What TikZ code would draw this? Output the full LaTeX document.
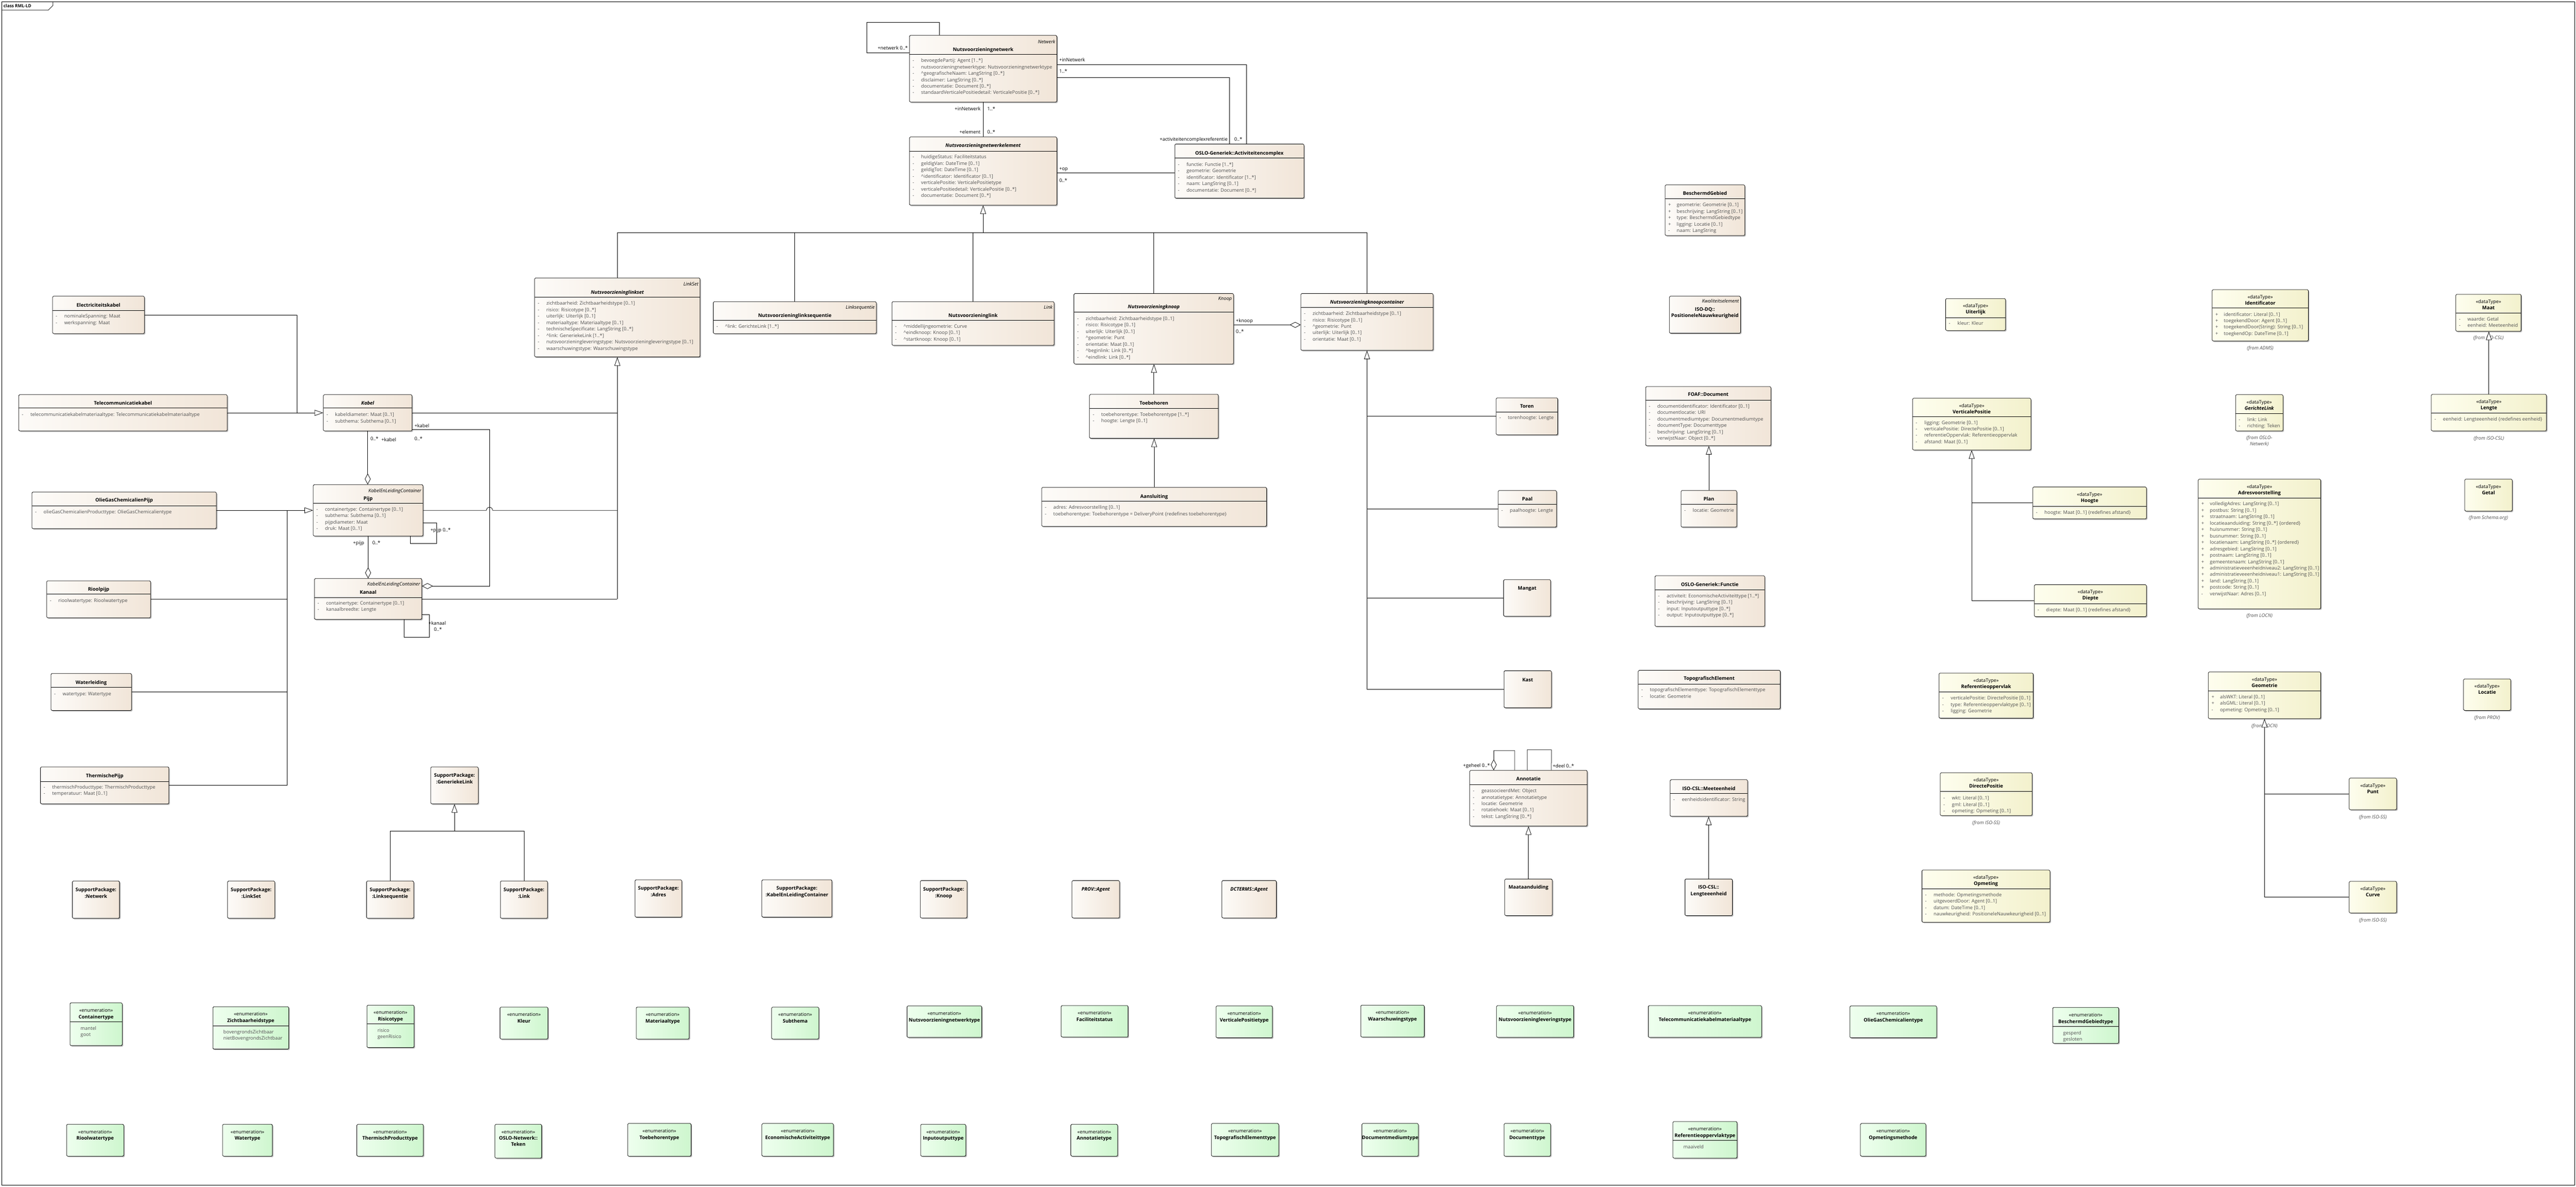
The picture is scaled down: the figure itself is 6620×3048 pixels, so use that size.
\documentclass[tikz,border=0pt]{standalone}
\usepackage{fontspec}
\setmainfont{Open Sans}
\usetikzlibrary{arrows.meta,fit,shadows}
\definecolor{clsL}{RGB}{253,251,248}
\definecolor{clsR}{RGB}{241,229,216}
\definecolor{dtL}{RGB}{254,254,238}
\definecolor{dtR}{RGB}{243,241,205}
\definecolor{enL}{RGB}{238,255,238}
\definecolor{enR}{RGB}{206,246,206}
\definecolor{attgray}{RGB}{80,80,80}
\newcommand\atfont{\fontsize{12.3}{16.5}\selectfont}
\newcommand\ttlfont{\fontsize{12.5}{16.5}\selectfont\bfseries}
\newcommand\vl[2]{\strut\makebox[22pt][l]{#1}#2}
\newcommand\vm[1]{\vl{-}{#1}}
\newcommand\vp[1]{\vl{+}{#1}}
\newcommand\vv[1]{\strut#1}
\newcommand\crt{\textasciicircum{}}
\newcommand\bx[6]{\node[#1,fit={(#3,#4)(#5,#6)}] (#2) {};}
\newcommand\dvd[3]{\draw[divl] (#1,#3) -- (#2,#3);}
\newcommand\ttlat[5]{\node[#2,anchor=base] (#1) at (#3,{#4+4.5}) {#5};}
\newcommand\stre[4]{\node[steri,anchor=base east] (#1) at (#2,{#3+4.5}) {#4};}
\newcommand\atat[4]{\node[att] (#1) at ({#2+8},{#3-7.05}) {#4};}
\newcommand\enval[4]{\node[att] (#1) at ({#2+27},{#3-7.05}) {#4};}
\newcommand\lab[5]{\node[lbl,anchor=base #2] (#1) at (#3,{#4+4.5}) {#5};}
\newcommand\frm[4]{\node[frmt,anchor=base] (#1) at (#2,{#3+4.5}) {#4};}
\newcommand\spk[7]{\bx{cls}{#1}{#2}{#3}{#4}{#5}%
 \node[ttl,anchor=base] (#1-a) at ({(#2+#4)/2},{#3+22+4.5}) {#6};%
 \node[ttl,anchor=base] (#1-b) at ({(#2+#4)/2},{#3+39+4.5}) {#7};}
\newcommand\dtb[7]{\bx{dtp}{#1}{#2}{#3}{#4}{#5}%
 \node[stt,anchor=base] (#1-s) at ({(#2+#4)/2},{#3+18.5+4.5}) {«dataType»};%
 \node[#6,anchor=base] (#1-t) at ({(#2+#4)/2},{#3+34.5+4.5}) {#7};}
\newcommand\enb[6]{\bx{enm}{#1}{#2}{#3}{#4}{#5}%
 \node[stt,anchor=base] (#1-s) at ({(#2+#4)/2},{#3+19+4.5}) {«enumeration»};%
 \node[ttl,anchor=base] (#1-t) at ({(#2+#4)/2},{#3+36+4.5}) {#6};}
\begin{document}
\begin{tikzpicture}[x=1pt,y=-1pt,
 cls/.style={draw,line width=1pt,rounded corners=2.5pt,left color=clsL,right color=clsR,inner sep=0pt,
   drop shadow={shadow xshift=2.5pt,shadow yshift=-2.5pt,opacity=.3,fill=black}},
 dtp/.style={cls,left color=dtL,right color=dtR},
 enm/.style={cls,left color=enL,right color=enR},
 ttl/.style={font=\ttlfont,inner sep=0pt},
 ttli/.style={font=\ttlfont\itshape,inner sep=0pt},
 stt/.style={font=\atfont,inner sep=0pt},
 steri/.style={font=\atfont\itshape,inner sep=0pt},
 att/.style={font=\atfont,text=attgray,align=left,inner sep=0pt,anchor=north west},
 lbl/.style={font=\atfont,inner sep=0pt},
 frmt/.style={font=\atfont\itshape,text=attgray,inner sep=0pt},
 divl/.style={line width=1pt},
 conn/.style={line width=1pt},
 gen/.style={conn,-{Triangle[length=22pt,width=15pt,fill=white]}},
 agg/.style={conn,-{Diamond[length=28pt,width=15pt,fill=white]}}]
\useasboundingbox (0,0) rectangle (6620,3048);
\fill[white] (0,0) rectangle (6620,3048);
\draw[line width=1pt] (4,4) rectangle (6616,3044);
\draw[line width=1pt] (4,26) -- (124,26) -- (136,14) -- (136,4);
\node[font=\fontsize{11}{13}\selectfont\bfseries,anchor=base west,inner sep=0pt] (frame-t) at (9,19.5) {class RML-LD};

% ---------- top
\bx{cls}{netw}{2337}{91}{2716}{262}
\dvd{2337}{2716}{139}
\stre{netw-s}{2712}{107}{Netwerk}
\ttlat{netw-t}{ttl}{2526.5}{127}{Nutsvoorzieningnetwerk}
\atat{netw-a}{2337}{155}{\vm{bevoegdePartij: Agent [1..*]}\\\vm{nutsvoorzieningnetwerktype: Nutsvoorzieningnetwerktype}\\\vm{\crt geografischeNaam: LangString [0..*]}\\\vm{disclaimer: LangString [0..*]}\\\vm{documentatie: Document [0..*]}\\\vm{standaardVerticalePositiedetail: VerticalePositie [0..*]}}

\bx{cls}{elem}{2337}{352}{2716}{527}
\dvd{2337}{2716}{389}
\ttlat{elem-t}{ttli}{2526.5}{374}{Nutsvoorzieningnetwerkelement}
\atat{elem-a}{2337}{403}{\vm{huidigeStatus: Faciliteitstatus}\\\vm{geldigVan: DateTime [0..1]}\\\vm{geldigTot: DateTime [0..1]}\\\vm{\crt identificator: Identificator [0..1]}\\\vm{verticalePositie: VerticalePositietype}\\\vm{verticalePositiedetail: VerticalePositie [0..*]}\\\vm{documentatie: Document [0..*]}}

\bx{cls}{oslo}{3019}{370}{3351}{509}
\dvd{3019}{3351}{405}
\ttlat{oslo-t}{ttl}{3185}{393}{OSLO-Generiek::Activiteitencomplex}
\atat{oslo-a}{3019}{422}{\vm{functie: Functie [1..*]}\\\vm{geometrie: Geometrie}\\\vm{identificator: Identificator [1..*]}\\\vm{naam: LangString [0..1]}\\\vm{documentatie: Document [0..*]}}

% ---------- middle row
\bx{cls}{lset}{1374}{714}{1799}{917}
\dvd{1374}{1799}{763}
\stre{lset-s}{1795}{730}{LinkSet}
\ttlat{lset-t}{ttli}{1586.5}{751}{Nutsvoorzieninglinkset}
\atat{lset-a}{1374}{779}{\vm{zichtbaarheid: Zichtbaarheidstype [0..1]}\\\vm{risico: Risicotype [0..*]}\\\vm{uiterlijk: Uiterlijk [0..1]}\\\vm{materiaaltype: Materiaaltype [0..1]}\\\vm{technischeSpecificate: LangString [0..*]}\\\vm{\crt link: GeneriekeLink [1..*]}\\\vm{nutsvoorzieningleveringstype: Nutsvoorzieningleveringstype [0..1]}\\\vm{waarschuwingstype: Waarschuwingstype}}

\bx{cls}{lseq}{1833}{775}{2252}{857}
\dvd{1833}{2252}{823}
\stre{lseq-s}{2248}{789}{Linksequentie}
\ttlat{lseq-t}{ttl}{2042.5}{811}{Nutsvoorzieninglinksequentie}
\atat{lseq-a}{1833}{838}{\vm{\crt link: GerichteLink [1..*]}}

\bx{cls}{link}{2292}{775}{2709}{887}
\dvd{2292}{2709}{823}
\stre{link-s}{2705}{789}{Link}
\ttlat{link-t}{ttl}{2500.5}{811}{Nutsvoorzieninglink}
\atat{link-a}{2292}{838}{\vm{\crt middellijngeometrie: Curve}\\\vm{\crt eindknoop: Knoop [0..1]}\\\vm{\crt startknoop: Knoop [0..1]}}

\bx{cls}{knoop}{2760}{754}{3170}{935}
\dvd{2760}{3170}{801}
\stre{knoop-s}{3166}{767}{Knoop}
\ttlat{knoop-t}{ttli}{2965}{788}{Nutsvoorzieningknoop}
\atat{knoop-a}{2760}{818}{\vm{zichtbaarheid: Zichtbaarheidstype [0..1]}\\\vm{risico: Risicotype [0..1]}\\\vm{uiterlijk: Uiterlijk [0..1]}\\\vm{\crt geometrie: Punt}\\\vm{orientatie: Maat [0..1]}\\\vm{\crt beginlink: Link [0..*]}\\\vm{\crt eindlink: Link [0..*]}}

\bx{cls}{kc}{3343}{754}{3683}{900}
\dvd{3343}{3683}{789}
\ttlat{kc-t}{ttli}{3513}{776}{Nutsvoorzieningknoopcontainer}
\atat{kc-a}{3343}{805}{\vm{zichtbaarheid: Zichtbaarheidstype [0..1]}\\\vm{risico: Risicotype [0..1]}\\\vm{\crt geometrie: Punt}\\\vm{uiterlijk: Uiterlijk [0..1]}\\\vm{orientatie: Maat [0..1]}}

\bx{cls}{toeb}{2800}{1013}{3131}{1126}
\dvd{2800}{3131}{1049}
\ttlat{toeb-t}{ttl}{2965.5}{1036}{Toebehoren}
\atat{toeb-a}{2800}{1064}{\vm{toebehorentype: Toebehorentype [1..*]}\\\vm{hoogte: Lengte [0..1]}}

\bx{cls}{aans}{2677}{1252}{3255}{1352}
\dvd{2677}{3255}{1288}
\ttlat{aans-t}{ttl}{2966}{1275}{Aansluiting}
\atat{aans-a}{2677}{1303}{\vm{adres: Adresvoorstelling [0..1]}\\\vm{toebehorentype: Toebehorentype = DeliveryPoint \{redefines toebehorentype\}}}

% ---------- left column
\bx{cls}{ek}{135}{761}{371}{857}
\dvd{135}{371}{797}
\ttlat{ek-t}{ttl}{253}{784}{Electriciteitskabel}
\atat{ek-a}{135}{812}{\vm{nominaleSpanning: Maat}\\\vm{werkspanning: Maat}}

\bx{cls}{tk}{48}{1014}{584}{1107}
\dvd{48}{584}{1048}
\ttlat{tk-t}{ttl}{316}{1036}{Telecommunicatiekabel}
\atat{tk-a}{48}{1065}{\vm{telecommunicatiekabelmateriaaltype: Telecommunicatiekabelmateriaaltype}}

\bx{cls}{kabel}{831}{1014}{1059}{1107}
\dvd{831}{1059}{1048}
\ttlat{kabel-t}{ttli}{945}{1036}{Kabel}
\atat{kabel-a}{831}{1065}{\vm{kabeldiameter: Maat [0..1]}\\\vm{subthema: Subthema [0..1]}}

\bx{cls}{og}{82}{1264}{556}{1358}
\dvd{82}{556}{1299}
\ttlat{og-t}{ttl}{319}{1285}{OlieGasChemicalienPijp}
\atat{og-a}{82}{1315}{\vm{olieGasChemicalienProducttype: OlieGasChemicalientype}}

\bx{cls}{pijp}{805}{1245}{1087}{1377}
\dvd{805}{1087}{1293}
\stre{pijp-s}{1083}{1260}{KabelEnLeidingContainer}
\ttlat{pijp-t}{ttl}{946}{1280}{Pijp}
\atat{pijp-a}{805}{1308}{\vm{containertype: Containertype [0..1]}\\\vm{subthema: Subthema [0..1]}\\\vm{pijpdiameter: Maat}\\\vm{druk: Maat [0..1]}}

\bx{cls}{rp}{120}{1492}{387}{1587}
\dvd{120}{387}{1526}
\ttlat{rp-t}{ttl}{253.5}{1514}{Rioolpijp}
\atat{rp-a}{120}{1542}{\vm{rioolwatertype: Rioolwatertype}}

\bx{cls}{kanaal}{808}{1486}{1084}{1591}
\dvd{808}{1084}{1535}
\stre{kanaal-s}{1080}{1500}{KabelEnLeidingContainer}
\ttlat{kanaal-t}{ttl}{946}{1521}{Kanaal}
\atat{kanaal-a}{808}{1549}{\vm{containertype: Containertype [0..1]}\\\vm{kanaalbreedte: Lengte}}

\bx{cls}{wl}{131}{1730}{338}{1825}
\dvd{131}{338}{1766}
\ttlat{wl-t}{ttl}{234.5}{1753}{Waterleiding}
\atat{wl-a}{131}{1782}{\vm{watertype: Watertype}}

\bx{cls}{tp}{104}{1970}{434}{2065}
\dvd{104}{434}{2007}
\ttlat{tp-t}{ttl}{269}{1993}{ThermischePijp}
\atat{tp-a}{104}{2021}{\vm{thermischProducttype: ThermischProducttype}\\\vm{temperatuur: Maat [0..1]}}

% ---------- support packages
\spk{gl}{1107}{1970}{1229}{2065}{SupportPackage:}{:GeneriekeLink}
\spk{spnet}{186}{2263}{307}{2359}{SupportPackage:}{:Netwerk}
\spk{spls}{585}{2263}{706}{2359}{SupportPackage:}{:LinkSet}
\spk{splseq}{942}{2263}{1063}{2359}{SupportPackage:}{:Linksequentie}
\spk{splink}{1286}{2263}{1407}{2359}{SupportPackage:}{:Link}
\spk{spadr}{1632}{2260}{1752}{2356}{SupportPackage:}{:Adres}
\spk{spkelc}{1958}{2260}{2138}{2356}{SupportPackage:}{:KabelEnLeidingContainer}
\spk{spknp}{2365}{2262}{2485}{2358}{SupportPackage:}{:Knoop}
\bx{cls}{prov}{2755}{2262}{2877}{2358}
\ttlat{prov-t}{ttli}{2816}{2284}{PROV::Agent}
\bx{cls}{dct}{3140}{2262}{3280}{2358}
\ttlat{dct-t}{ttli}{3210}{2284}{DCTERMS::Agent}

% ---------- knoopcontainer subtypes
\bx{cls}{toren}{3845}{1022}{4003}{1117}
\dvd{3845}{4003}{1059}
\ttlat{toren-t}{ttl}{3924}{1044}{Toren}
\atat{toren-a}{3845}{1073}{\vm{torenhoogte: Lengte}}
\bx{cls}{paal}{3850}{1260}{4000}{1354}
\dvd{3850}{4000}{1295}
\ttlat{paal-t}{ttl}{3925}{1282}{Paal}
\atat{paal-a}{3850}{1311}{\vm{paalhoogte: Lengte}}
\bx{cls}{mangat}{3864}{1489}{3985}{1583}
\ttlat{mangat-t}{ttl}{3924.5}{1511}{Mangat}
\bx{cls}{kast}{3865}{1723}{3987}{1818}
\ttlat{kast-t}{ttl}{3926}{1746}{Kast}

% ---------- other classes
\bx{cls}{bg}{4279}{475}{4484}{605}
\dvd{4279}{4484}{510}
\ttlat{bg-t}{ttl}{4381.5}{497}{BeschermdGebied}
\atat{bg-a}{4279}{526}{\vp{geometrie: Geometrie [0..1]}\\\vp{beschrijving: LangString [0..1]}\\\vp{type: BeschermdGebiedtype}\\\vp{ligging: Locatie [0..1]}\\\vm{naam: LangString}}

\bx{cls}{dq}{4290}{761}{4473}{856}
\stre{dq-s}{4469}{774}{Kwaliteitselement}
\ttlat{dq-t1}{ttl}{4381.5}{795}{ISO-DQ::}
\ttlat{dq-t2}{ttl}{4381.5}{811}{PositioneleNauwkeurigheid}

\bx{cls}{foaf}{4229}{993}{4551}{1145}
\dvd{4229}{4551}{1028}
\ttlat{foaf-t}{ttl}{4390}{1013}{FOAF::Document}
\atat{foaf-a}{4229}{1043}{\vm{documentidentificator: Identificator [0..1]}\\\vm{documentlocatie: URI}\\\vm{documentmediumtype: Documentmediumtype}\\\vm{documentType: Documenttype}\\\vm{beschrijving: LangString [0..1]}\\\vm{verwijstNaar: Object [0..*]}}

\bx{cls}{plan}{4320}{1260}{4463}{1354}
\dvd{4320}{4463}{1295}
\ttlat{plan-t}{ttl}{4391.5}{1282}{Plan}
\atat{plan-a}{4320}{1311}{\vm{locatie: Geometrie}}

\bx{cls}{func}{4253}{1479}{4535}{1609}
\dvd{4253}{4535}{1515}
\ttlat{func-t}{ttl}{4394}{1502}{OSLO-Generiek::Functie}
\atat{func-a}{4253}{1530}{\vm{activiteit: EconomischeActiviteittype [1..*]}\\\vm{beschrijving: LangString [0..1]}\\\vm{input: Inputoutputtype [0..*]}\\\vm{output: Inputoutputtype [0..*]}}

\bx{cls}{topo}{4210}{1722}{4575}{1821}
\dvd{4210}{4575}{1757}
\ttlat{topo-t}{ttl}{4392.5}{1743}{TopografischElement}
\atat{topo-a}{4210}{1772}{\vm{topografischElementtype: TopografischElementtype}\\\vm{locatie: Geometrie}}

\bx{cls}{annot}{3777}{1979}{4079}{2122}
\dvd{3777}{4079}{2015}
\ttlat{annot-t}{ttl}{3928}{2001}{Annotatie}
\atat{annot-a}{3777}{2031}{\vm{geassocieerdMet: Object}\\\vm{annotatietype: Annotatietype}\\\vm{locatie: Geometrie}\\\vm{rotatiehoek: Maat [0..1]}\\\vm{tekst: LangString [0..*]}}

\bx{cls}{maatA}{3867}{2258}{3989}{2352}
\ttlat{maatA-t}{ttl}{3928}{2279}{Maataanduiding}

\bx{cls}{meet}{4292}{2003}{4491}{2097}
\dvd{4292}{4491}{2038}
\ttlat{meet-t}{ttl}{4391.5}{2026}{ISO-CSL::Meeteenheid}
\atat{meet-a}{4292}{2054}{\vm{eenheidsidentificator: String}}

\bx{cls}{leng}{4330}{2258}{4452}{2352}
\ttlat{leng-t1}{ttl}{4391}{2279}{ISO-CSL::}
\ttlat{leng-t2}{ttl}{4391}{2296}{Lengteeenheid}

% ---------- data types
\dtb{uit}{5000}{767}{5154}{849}{ttl}{Uiterlijk}
\dvd{5000}{5154}{816}
\atat{uit-a}{5000}{830}{\vm{kleur: Kleur}}

\dtb{vp}{4915}{1023}{5219}{1156}{ttl}{VerticalePositie}
\dvd{4915}{5219}{1070}
\atat{vp-a}{4915}{1085}{\vm{ligging: Geometrie [0..1]}\\\vm{verticalePositie: DirectePositie [0..1]}\\\vm{referentieOppervlak: Referentieoppervlak}\\\vm{afstand: Maat [0..1]}}

\dtb{hoogte}{5224}{1251}{5516}{1333}{ttl}{Hoogte}
\dvd{5224}{5516}{1300}
\atat{hoogte-a}{5224}{1316}{\vm{hoogte: Maat [0..1] \{redefines afstand\}}}

\dtb{diepte}{5228}{1502}{5516}{1584}{ttl}{Diepte}
\dvd{5228}{5516}{1551}
\atat{diepte-a}{5228}{1566}{\vm{diepte: Maat [0..1] \{redefines afstand\}}}

\dtb{ident}{5685}{744}{5932}{876}{ttl}{Identificator}
\dvd{5685}{5932}{791}
\atat{ident-a}{5685}{807}{\vp{identificator: Literal [0..1]}\\\vp{toegekendDoor: Agent [0..1]}\\\vp{toegekendDoor(String): String [0..1]}\\\vp{toegkendOp: DateTime [0..1]}}
\frm{ident-f}{5808.5}{894}{(from ADMS)}

\dtb{glk}{5745}{1014}{5867}{1107}{ttli}{GerichteLink}
\dvd{5745}{5867}{1062}
\atat{glk-a}{5745}{1077}{\vm{link: Link}\\\vm{richting: Teken}}
\frm{glk-f1}{5806}{1124}{(from OSLO-}
\frm{glk-f2}{5806}{1140}{Netwerk)}

\dtb{adres}{5649}{1231}{5964}{1564}{ttl}{Adresvoorstelling}
\dvd{5649}{5964}{1279}
\atat{adres-a}{5649}{1294}{\vp{volledigAdres: LangString [0..1]}\\\vp{postbus: String [0..1]}\\\vp{straatnaam: LangString [0..1]}\\\vp{locatieaanduiding: String [0..*] \{ordered\}}\\\vp{huisnummer: String [0..1]}\\\vp{busnummer: String [0..1]}\\\vp{locatienaam: LangString [0..*] \{ordered\}}\\\vp{adresgebied: LangString [0..1]}\\\vp{postnaam: LangString [0..1]}\\\vp{gemeentenaam: LangString [0..1]}\\\vp{administratieveeenheidniveau2: LangString [0..1]}\\\vp{administratieveeenheidniveau1: LangString [0..1]}\\\vp{land: LangString [0..1]}\\\vp{postcode: String [0..1]}\\\vm{verwijstNaar: Adres [0..1]}}
\frm{adres-f}{5806.5}{1581}{(from LOCN)}

\dtb{maat}{6311}{756}{6479}{851}{ttl}{Maat}
\dvd{6311}{6479}{804}
\atat{maat-a}{6311}{819}{\vm{waarde: Getal}\\\vm{eenheid: Meeteenheid}}
\frm{maat-f}{6395}{868}{(from ISO-CSL)}

\dtb{lengte}{6248}{1013}{6544}{1107}{ttl}{Lengte}
\dvd{6248}{6544}{1061}
\atat{lengte-a}{6248}{1076}{\vm{eenheid: Lengteeenheid \{redefines eenheid\}}}
\frm{lengte-f}{6396}{1125}{(from ISO-CSL)}

\dtb{getal}{6334}{1231}{6456}{1313}{ttl}{Getal}
\frm{getal-f}{6395}{1330}{(from Schema.org)}

\dtb{ref}{4983}{1729}{5225}{1845}{ttl}{Referentieoppervlak}
\dvd{4983}{5225}{1777}
\atat{ref-a}{4983}{1793}{\vm{verticalePositie: DirectePositie [0..1]}\\\vm{type: Referentieoppervlaktype [0..1]}\\\vm{ligging: Geometrie}}

\dtb{dp}{4986}{1985}{5222}{2095}{ttl}{DirectePositie}
\dvd{4986}{5222}{2033}
\atat{dp-a}{4986}{2050}{\vm{wkt: Literal [0..1]}\\\vm{gml: Literal [0..1]}\\\vm{opmeting: Opmeting [0..1]}}
\frm{dp-f}{5104}{2113}{(from ISO-SS)}

\dtb{opm}{4939}{2235}{5268}{2369}{ttl}{Opmeting}
\dvd{4939}{5268}{2283}
\atat{opm-a}{4939}{2298}{\vm{methode: Opmetingsmethode}\\\vm{uitgevoerdDoor: Agent [0..1]}\\\vm{datum: DateTime [0..1]}\\\vm{nauwkeurigheid: PositioneleNauwkeurigheid [0..1]}}

\dtb{geo}{5675}{1726}{5964}{1846}{ttl}{Geometrie}
\dvd{5675}{5964}{1774}
\atat{geo-a}{5675}{1790}{\vp{alsWKT: Literal [0..1]}\\\vp{alsGML: Literal [0..1]}\\\vm{opmeting: Opmeting [0..1]}}
\frm{geo-f}{5819.5}{1864}{(from LOCN)}

\dtb{punt}{6037}{1999}{6159}{2080}{ttl}{Punt}
\frm{punt-f}{6098}{2099}{(from ISO-SS)}
\dtb{curve}{6037}{2264}{6159}{2345}{ttl}{Curve}
\frm{curve-f}{6098}{2363}{(from ISO-SS)}
\dtb{loc}{6331}{1744}{6452}{1825}{ttl}{Locatie}
\frm{loc-f}{6391.5}{1843}{(from PROV)}

% ---------- enumerations row 1
\enb{e1}{180}{2576}{314}{2686}{Containertype}
\dvd{180}{314}{2624}
\enval{e1-v}{180}{2641}{\vv{mantel}\\\vv{goot}}
\enb{e2}{547}{2586}{742}{2695}{Zichtbaarheidstype}
\dvd{547}{742}{2635}
\enval{e2-v}{547}{2650}{\vv{bovengrondsZichtbaar}\\\vv{nietBovengrondsZichtbaar}}
\enb{e3}{943}{2582}{1064}{2691}{Risicotype}
\dvd{943}{1064}{2630}
\enval{e3-v}{943}{2646}{\vv{risico}\\\vv{geenRisico}}
\enb{e4}{1285}{2587}{1408}{2669}{Kleur}
\enb{e5}{1635}{2587}{1771}{2669}{Materiaaltype}
\enb{e6}{1983}{2587}{2104}{2669}{Subthema}
\enb{e7}{2331}{2584}{2523}{2665}{Nutsvoorzieningnetwerktype}
\enb{e8}{2727}{2583}{2899}{2664}{Faciliteitstatus}
\enb{e9}{3125}{2584}{3270}{2666}{VerticalePositietype}
\enb{e10}{3497}{2582}{3660}{2664}{Waarschuwingstype}
\enb{e11}{3846}{2583}{4044}{2665}{Nutsvoorzieningleveringstype}
\enb{e12}{4236}{2583}{4527}{2665}{Telecommunicatiekabelmateriaaltype}
\enb{e13}{4754}{2584}{4977}{2666}{OlieGasChemicalientype}
\enb{e14}{5275}{2588}{5445}{2680}{BeschermdGebiedtype}
\dvd{5275}{5445}{2636}
\enval{e14-v}{5275}{2653}{\vv{gesperd}\\\vv{gesloten}}

% ---------- enumerations row 2
\enb{r1}{171}{2888}{318}{2970}{Rioolwatertype}
\enb{r2}{572}{2888}{700}{2970}{Watertype}
\enb{r3}{917}{2888}{1088}{2970}{ThermischProducttype}
\bx{enm}{r4}{1272}{2888}{1392}{2975}
\node[stt,anchor=base] (r4-s) at (1332,{2888+19+4.5}) {«enumeration»};
\node[ttl,anchor=base] (r4-t1) at (1332,{2888+36+4.5}) {OSLO-Netwerk::};
\node[ttl,anchor=base] (r4-t2) at (1332,{2888+52+4.5}) {Teken};
\enb{r5}{1613}{2886}{1776}{2970}{Toebehorentype}
\enb{r6}{1958}{2886}{2142}{2970}{EconomischeActiviteittype}
\enb{r7}{2366}{2888}{2482}{2970}{Inputoutputtype}
\enb{r8}{2752}{2888}{2872}{2970}{Annotatietype}
\enb{r9}{3113}{2886}{3286}{2970}{TopografischElementtype}
\enb{r10}{3500}{2886}{3645}{2970}{Documentmediumtype}
\enb{r11}{3865}{2886}{3985}{2970}{Documenttype}
\enb{r12}{4299}{2881}{4464}{2975}{Referentieoppervlaktype}
\dvd{4299}{4464}{2929}
\enval{r12-v}{4299}{2946}{\vv{maaiveld}}
\enb{r13}{4781}{2886}{4949}{2970}{Opmetingsmethode}

% =============== connectors
\coordinate (nwl) at (2228,57);
\draw[conn] ([xshift=77pt]netw.north west) |- (nwl) |- ([yshift=-45pt]netw.north west);
\lab{l0}{east}{2333}{123}{+netwerk 0..*}

\draw[conn] ([yshift=-76pt]netw.north east) -| ([xshift=185pt]oslo.north west);
\draw[conn] ([yshift=-108pt]netw.north east) -| ([xshift=141pt]oslo.north west);
\lab{l1}{west}{2722}{154}{+inNetwerk}
\lab{l2}{west}{2722}{183}{1..*}
\lab{l3}{east}{3155}{358}{+activiteitencomplexreferentie}
\lab{l4}{west}{3172}{358}{0..*}

\draw[conn] (netw.south) -- (elem.north);
\lab{l5}{east}{2520}{280}{+inNetwerk}
\lab{l6}{west}{2537}{280}{1..*}
\lab{l7}{east}{2520}{339}{+element}
\lab{l8}{west}{2537}{339}{0..*}

\coordinate (op1) at ([yshift=-93pt]elem.north east);
\draw[conn] (op1) -- (op1 -| oslo.west);
\lab{l9}{west}{2722}{433}{+op}
\lab{l10}{west}{2722}{463}{0..*}

\coordinate (gbus) at ([yshift=-70pt]elem.south);
\draw[gen] (gbus) -- (elem.south);
\draw[conn] (lset.north) |- (gbus) -| (kc.north);
\draw[conn] (lseq.north) -- (lseq.north |- gbus);
\draw[conn] (link.north) -- (link.north |- gbus);
\draw[conn] (knoop.north) -- (knoop.north |- gbus);

\coordinate (kn1) at ([yshift=-81pt]knoop.north east);
\draw[agg] (kn1) -- (kn1 -| kc.west);
\lab{l11}{west}{3176}{823}{+knoop}
\lab{l12}{west}{3176}{852}{0..*}

\draw[gen] (toeb.north) -- (toeb.north |- knoop.south);
\draw[gen] (aans.north) -- (aans.north |- toeb.south);

\draw[gen] (kc.south |- kast.west) -- (kc.south);
\draw[conn] (kast.west) -- (kast.west -| kc.south);
\draw[conn] (mangat.west) -- (mangat.west -| kc.south);
\draw[conn] (paal.west) -- (paal.west -| kc.south);
\draw[conn] (toren.west) -- (toren.west -| kc.south);

\draw[gen] (kanaal.east -| lset.south) -- (lset.south);
\draw[conn] (kanaal.east) -- (kanaal.east -| lset.south);
\draw[conn] (kabel.east) -- (kabel.east -| lset.south);
\coordinate (kx) at (1258,1311);
\draw[conn] (pijp.east) -- ([xshift=-8pt]kx) arc[start angle=180,end angle=0,radius=8pt] -- (pijp.east -| lset.south);

\coordinate (kkx) at (1258,1300);
\draw[agg] ([yshift=4pt]kabel.south east) -| (kkx) |- ([yshift=-20pt]kanaal.north east);
\lab{l13}{west}{1065}{1094}{+kabel}
\lab{l14}{west}{1065}{1127}{0..*}

\draw[agg] (kabel.south) -- (kabel.south |- pijp.north);
\lab{l15}{west}{952}{1127}{0..*}
\lab{l16}{west}{980}{1130}{+kabel}

\draw[agg] (pijp.south) -- (pijp.south |- kanaal.north);
\lab{l17}{east}{936}{1394}{+pijp}
\lab{l18}{west}{957}{1394}{0..*}

\coordinate (pl) at (1122,1396);
\draw[conn] ([yshift=-98pt]pijp.north east) -| (pl) -| ([xshift=250pt]pijp.south west);
\lab{l19}{west}{1106}{1361}{+pijp 0..*}

\coordinate (kl) at (1103,1637);
\draw[conn] ([yshift=-93pt]kanaal.north east) -| (kl) -| ([xshift=231pt]kanaal.south west);
\lab{l20}{west}{1101}{1601}{+kanaal}
\lab{l21}{west}{1115}{1617}{0..*}

\draw[gen] (tk.east) -- (kabel.west);
\draw[conn] (ek.east) -| ([xshift=-68pt]kabel.west);

\coordinate (pbus) at ([xshift=-67pt]pijp.west);
\draw[gen] (og.east) -- (pijp.west);
\draw[conn] (pbus) |- (tp.east);
\draw[conn] (rp.east) -- (rp.east -| pbus);
\draw[conn] (wl.east) -- (wl.east -| pbus);

\coordinate (al1) at (3839,1928);
\draw[agg] ([xshift=116pt]annot.north west) |- (al1) -- ([xshift=62pt]annot.north west);
\lab{l22}{east}{3829}{1966}{+geheel 0..*}
\coordinate (al2) at (3987,1926);
\draw[conn] ([xshift=148pt]annot.north west) |- (al2) -- ([xshift=210pt]annot.north west);
\lab{l23}{west}{3990}{1968}{+deel 0..*}

\draw[gen] (maatA.north) -- (maatA.north |- annot.south);
\draw[gen] (leng.north) -- (leng.north |- meet.south);
\draw[gen] (plan.north) -- (plan.north |- foaf.south);

\draw[gen] (vp.south |- diepte.west) -- (vp.south);
\draw[conn] (hoogte.west) -- (hoogte.west -| vp.south);
\draw[conn] (diepte.west) -- (diepte.west -| vp.south);

\draw[gen] (lengte.north) -- (lengte.north |- maat.south);

\draw[gen] (geo.south |- curve.west) -- (geo.south);
\draw[conn] (punt.west) -- (punt.west -| geo.south);
\draw[conn] (curve.west) -- (curve.west -| geo.south);

\coordinate (glb) at ([yshift=-69pt]gl.south);
\draw[gen] (glb) -- (gl.south);
\draw[conn] (splseq.north) |- (glb) -| (splink.north);
\end{tikzpicture}
\end{document}
